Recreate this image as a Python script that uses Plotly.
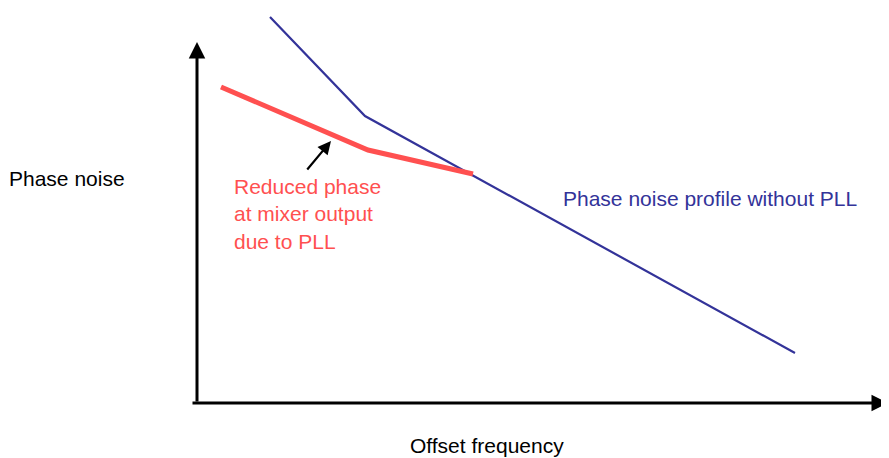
import plotly.graph_objects as go

# Schematic phase noise curves (x: offset frequency, y: phase noise, arbitrary units)
no_pll_x = [270, 365, 795]
no_pll_y = [441, 342, 105]

with_pll_x = [221, 368, 473]
with_pll_y = [371, 308, 284]

W, H = 889, 458
PAD = 8  # page body margin
FONT = "Liberation Sans, Arial, sans-serif"
BLUE = "#333399"
RED = "#FF5050"

fig = go.Figure()

fig.add_trace(go.Scatter(
    x=no_pll_x, y=no_pll_y, mode="lines",
    line=dict(color=BLUE, width=2.2),
    showlegend=False, hoverinfo="skip",
))
fig.add_trace(go.Scatter(
    x=with_pll_x, y=with_pll_y, mode="lines",
    line=dict(color=RED, width=5),
    showlegend=False, hoverinfo="skip",
))

# axes drawn as arrows
arrow = dict(text="", showarrow=True, arrowcolor="black", arrowhead=2)
fig.add_annotation(x=197, y=H - 42, ax=197, ay=H - 403,
                   xref="x", yref="y", axref="x", ayref="y",
                   arrowwidth=3, arrowsize=1.1, **arrow)
# x axis arrow runs past the right edge, like the original
tip = 902
fig.add_annotation(x=(tip - PAD) / (W - PAD), y=H - 403, ax=191 - tip, ay=0,
                   xref="paper", yref="y", axref="pixel", ayref="pixel",
                   arrowwidth=3, arrowsize=1.1, **arrow)
# pointer to reduced phase curve
fig.add_annotation(x=331, y=H - 141, ax=306, ay=H - 171,
                   xref="x", yref="y", axref="x", ayref="y",
                   arrowwidth=2.2, arrowsize=1.2, **arrow)

labels = [
    dict(x=PAD, y=H - 178, text="Phase noise", color="black", xanchor="left", xshift=-1),
    dict(x=487, y=H - 445, text="Offset frequency", color="black", xanchor="center", xshift=0),
    dict(x=563, y=H - 198, text="Phase noise profile without PLL", color=BLUE, xanchor="left", xshift=-2),
    dict(x=234, y=H - 214, text="Reduced phase<br>at mixer output<br>due to PLL", color=RED, xanchor="left", xshift=-2),
]
for lb in labels:
    fig.add_annotation(
        x=lb["x"], y=lb["y"], xref="x", yref="y", text=lb["text"],
        xshift=lb["xshift"],
        showarrow=False, xanchor=lb["xanchor"], yanchor="middle", align="left",
        font=dict(family=FONT, size=21, color=lb["color"]),
    )

fig.update_layout(
    width=W - PAD, height=H - PAD,
    margin=dict(l=0, r=0, t=0, b=0),
    paper_bgcolor="white", plot_bgcolor="white",
    xaxis=dict(range=[PAD, W], visible=False, fixedrange=True),
    yaxis=dict(range=[0, H - PAD], visible=False, fixedrange=True),
)

fig.write_html("out.html")
